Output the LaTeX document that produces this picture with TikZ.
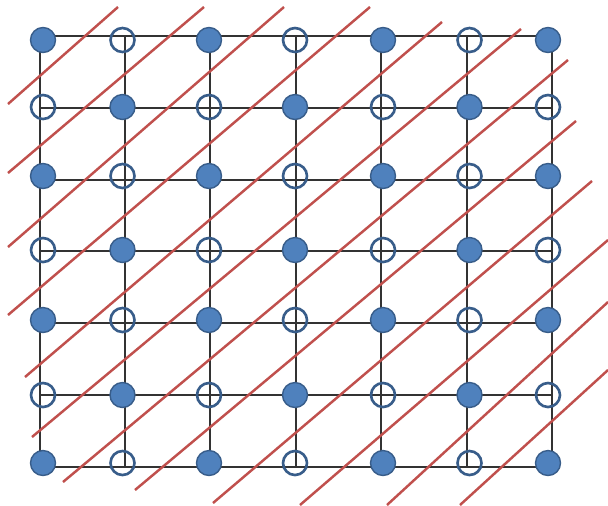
\documentclass[tikz,border=0pt]{standalone}
\usepackage{tikz}
\usepackage{xcolor}
\definecolor{ptblue}{HTML}{4F81BD}
\definecolor{ptedge}{HTML}{385D8A}
\definecolor{cutred}{HTML}{C0504D}
\tikzset{
  gridline/.style={black!80,line width=0.7pt},
  cutline/.style={cutred,line width=1.4pt},
  fullpt/.style={circle,inner sep=0pt,minimum size=0.5cm,fill=ptblue,draw=ptedge,line width=0.8pt},
  emptypt/.style={circle,inner sep=0pt,minimum size=0.48cm,draw=ptedge,line width=1.5pt}
}

\begin{document}
\begin{tikzpicture}[x=0.02cm,y=-0.02cm]
\useasboundingbox (0,0) rectangle (608,505);
% lattice lines
\foreach \gx in {40,125,210,296,381,467,552}
  \draw[gridline] (\gx,36) -- (\gx,467);
\foreach \gy in {36,108,180,251,323,395,467}
  \draw[gridline] (40,\gy) -- (552,\gy);
% red cuts
\coordinate (a1) at (8,104);   \coordinate (b1) at (118,7);
\coordinate (a2) at (8,173);   \coordinate (b2) at (204,7);
\coordinate (a3) at (8,247);   \coordinate (b3) at (284,7);
\coordinate (a4) at (8,315);   \coordinate (b4) at (370,7);
\coordinate (a5) at (25,377);  \coordinate (b5) at (442,22);
\coordinate (a6) at (32,437);  \coordinate (b6) at (521,29);
\coordinate (a7) at (63,482);  \coordinate (b7) at (568,60);
\coordinate (a8) at (135,490); \coordinate (b8) at (576,121);
\coordinate (a9) at (213,503); \coordinate (b9) at (592,181);
\coordinate (a10) at (300,505); \coordinate (b10) at (608,240);
\coordinate (a11) at (387,505); \coordinate (b11) at (608,302);
\coordinate (a12) at (460,505); \coordinate (b12) at (608,370);
\foreach \k in {1,...,12}
  \draw[cutline] (a\k) -- (b\k);
% lattice points
\foreach \px [count=\i] in {43,122.5,209,295,383,469.5,548}
  \foreach \py [count=\j] in {40,107,176,250,320,395,463} {
    \pgfmathtruncatemacro{\oddpt}{mod(\i+\j,2)}
    \ifnum\oddpt=0
      \node[fullpt] (p-\i-\j) at (\px,\py) {};
    \else
      \node[emptypt] (p-\i-\j) at (\px,\py) {};
    \fi
  }
\end{tikzpicture}
\end{document}
